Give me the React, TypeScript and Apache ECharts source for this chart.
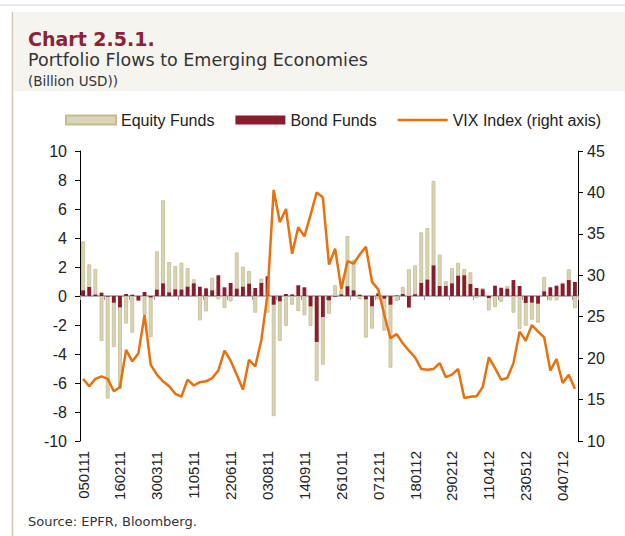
import React, { useEffect, useRef } from "react";
import * as echarts from "echarts";

// Weekly categories starting 05/01/2011 (DDMMYY), 81 weeks
const START_DATE = Date.UTC(2011, 0, 5);
const WEEK_COUNT = 81;
const dates: string[] = Array.from({ length: WEEK_COUNT }, (_, i) => {
  const d = new Date(START_DATE + i * 7 * 86400000);
  const dd = String(d.getUTCDate()).padStart(2, "0");
  const mm = String(d.getUTCMonth() + 1).padStart(2, "0");
  const yy = String(d.getUTCFullYear() % 100).padStart(2, "0");
  return dd + mm + yy;
});

const equityFunds: number[] = [
  3.77, 2.18, 1.86, -3.1, -7.08, -3.52, -6.4, -1.9, -2.53, -0.2,
  -1.3, -2.83, 3.08, 6.6, 2.34, 2.07, 2.3, 1.93, 1.15, -1.68,
  -1.06, 1.26, -0.23, -0.83, -0.37, 3.0, 2.02, 1.72, -1.15, 1.2,
  -1.15, -8.28, -3.1, -2.07, -0.6, -1.03, -1.33, -2.07, -5.86, -4.74,
  -1.22, 0.74, 0.39, 4.14, 2.5, -0.23, -2.87, -2.25, -0.23, -2.39,
  -4.94, -0.34, 0.62, 1.84, 2.11, 4.39, 4.69, 7.93, 2.85, 1.01,
  1.93, 2.28, 1.86, 1.63, -0.14, 0.55, -0.99, -0.76, -0.41, 0.69,
  -1.15, -2.28, -2.05, -1.63, -1.84, 1.31, -0.3, -0.3, 0.92, 1.84,
  -0.83,
];

const bondFunds: number[] = [
  0.39, 0.62, 0.1, 0.23, -0.05, -0.46, -0.78, 0.14, 0.09, -0.32,
  0.28, -0.1, 0.44, 0.87, 0.25, 0.46, 0.44, 0.64, 0.87, 0.64,
  0.53, 0.39, 1.43, 0.6, 0.9, 0.5, 0.64, 0.85, 0.55, 0.9,
  1.36, -0.6, -0.37, 0.14, 0.11, 0.74, 0.6, -0.71, -3.17, -1.45,
  -0.3, -0.05, 0.11, 0.67, 0.39, 0.09, -0.23, -0.71, 0.18, -0.18,
  -0.6, 0.03, 0.14, -0.8, 0.12, 0.9, 1.13, 2.11, 0.69, 0.69,
  0.87, 1.4, 1.43, 0.83, 0.55, 0.46, -0.14, 0.71, 0.57, 0.5,
  1.1, 0.69, -0.48, -0.46, -0.53, 0.32, 0.6, 0.71, 0.85, 1.1,
  0.97,
];

const vixIndex: number[] = [
  17.5, 16.6, 17.5, 17.8, 17.5, 16.0, 16.5, 21.0, 19.6, 20.6,
  25.2, 19.2, 18.0, 17.2, 16.6, 15.7, 15.35, 17.4, 16.7, 17.1,
  17.2, 17.6, 18.5, 20.9, 19.7, 18.0, 16.2, 19.8, 19.0, 22.2,
  27.7, 40.3, 36.4, 38.0, 32.6, 35.8, 34.7, 37.3, 40.0, 39.4,
  31.3, 33.2, 28.3, 31.7, 31.4, 32.5, 33.45, 29.2, 28.3, 25.2,
  22.4, 22.9, 21.8, 20.9, 20.1, 18.7, 18.6, 18.7, 19.4, 17.7,
  18.0, 18.7, 15.2, 15.35, 15.4, 16.5, 20.1, 18.8, 17.4, 17.6,
  19.4, 23.2, 22.1, 24.0, 23.2, 22.5, 18.5, 19.9, 17.0, 18.0,
  16.3,
];

const seriesNames = ["Equity Funds", "Bond Funds", "VIX Index (right axis)"];

const FONT = "'Liberation Sans', Arial, sans-serif";
const TITLE_FONT = "'DejaVu Sans', 'Liberation Sans', sans-serif";

export default function App() {
  const ref = useRef<HTMLDivElement>(null);

  useEffect(() => {
    if (!ref.current) return;
    const chart = echarts.init(ref.current, undefined, { renderer: "svg" });
    chart.setOption({
      animation: false,
      backgroundColor: "#ffffff",
      textStyle: { fontFamily: FONT },
      graphic: [
        { type: "line", shape: { x1: 0, y1: 5, x2: 625, y2: 5 }, style: { stroke: "#d6d6d6", lineWidth: 1 } },
        { type: "rect", shape: { x: 14, y: 12, width: 611, height: 79 }, style: { fill: "#f5f4ef" } },
        { type: "line", shape: { x1: 12.5, y1: 12, x2: 12.5, y2: 536 }, style: { stroke: "#cfc6b0", lineWidth: 1.5 } },
        { type: "text", left: 28, top: 29, style: { text: "Chart 2.5.1.", fill: "#8b2332", font: `bold 19px ${TITLE_FONT}` } },
        { type: "text", left: 28, top: 51, style: { text: "Portfolio Flows to Emerging Economies", fill: "#333333", font: `17.5px ${TITLE_FONT}` } },
        { type: "text", left: 28, top: 74, style: { text: "(Billion USD))", fill: "#333333", font: `13.5px ${TITLE_FONT}` } },
        { type: "text", left: 28, top: 515, style: { text: "Source: EPFR, Bloomberg.", fill: "#333333", font: `13px ${TITLE_FONT}` } },
      ],
      legend: {
        data: [
          { name: seriesNames[0], icon: "rect" },
          { name: seriesNames[1], icon: "rect" },
          { name: seriesNames[2], icon: "path://M0,0 L50,0 L50,2.5 L0,2.5 Z" },
        ],
        left: 60,
        top: 107,
        itemWidth: 50,
        itemHeight: 9,
        itemGap: 21,
        symbolKeepAspect: true,
        textStyle: { fontSize: 16, color: "#222", fontFamily: FONT },
      },
      grid: { left: 80, right: 47, top: 151, bottom: 95, containLabel: false },
      xAxis: [
        {
          type: "category",
          data: dates,
          position: "bottom",
          boundaryGap: true,
          axisLine: { show: false, onZero: false },
          axisTick: { show: false },
          axisLabel: { rotate: 90, interval: 5, fontSize: 15, color: "#222", margin: 10, fontFamily: FONT },
          splitLine: { show: false },
        },
        {
          type: "category",
          data: dates,
          position: "top",
          boundaryGap: true,
          axisLine: { show: true, onZero: true, onZeroAxisIndex: 0, lineStyle: { color: "#9c98a4", width: 1.5 } },
          axisTick: { show: true, inside: true, interval: 3, length: 4, lineStyle: { color: "#9c98a4" } },
          axisLabel: { show: false },
          splitLine: { show: false },
        },
      ],
      yAxis: [
        {
          type: "value",
          min: -10,
          max: 10,
          interval: 2,
          position: "left",
          axisLine: { show: true, lineStyle: { color: "#000", width: 1 } },
          axisTick: { show: true, length: 5, lineStyle: { color: "#000" } },
          axisLabel: { fontSize: 16, color: "#222", margin: 13, fontFamily: FONT },
          splitLine: { show: false },
        },
        {
          type: "value",
          min: 10,
          max: 45,
          interval: 5,
          position: "right",
          axisLine: { show: true, lineStyle: { color: "#000", width: 1 } },
          axisTick: { show: true, length: 5, lineStyle: { color: "#000" } },
          axisLabel: { fontSize: 16, color: "#222", margin: 9, fontFamily: FONT },
          splitLine: { show: false },
        },
      ],
      series: [
        {
          name: seriesNames[0],
          type: "bar",
          xAxisIndex: 0,
          yAxisIndex: 0,
          data: equityFunds,
          barWidth: "62%",
          itemStyle: { color: "#dad4b6", borderColor: "#c4bb90", borderWidth: 0.8 },
        },
        {
          name: seriesNames[1],
          type: "bar",
          xAxisIndex: 0,
          yAxisIndex: 0,
          data: bondFunds,
          barWidth: "62%",
          barGap: "-100%",
          itemStyle: { color: "#8a1d2d" },
        },
        {
          name: seriesNames[2],
          type: "line",
          xAxisIndex: 0,
          yAxisIndex: 1,
          data: vixIndex,
          symbol: "none",
          z: 5,
          lineStyle: { color: "#e8700d", width: 2.5 },
          itemStyle: { color: "#e8700d" },
        },
      ],
    });
    return () => chart.dispose();
  }, []);

  return (
    <div
      ref={ref}
      style={{ position: "absolute", left: 0, top: 0, width: 625, height: 536 }}
    />
  );
}
